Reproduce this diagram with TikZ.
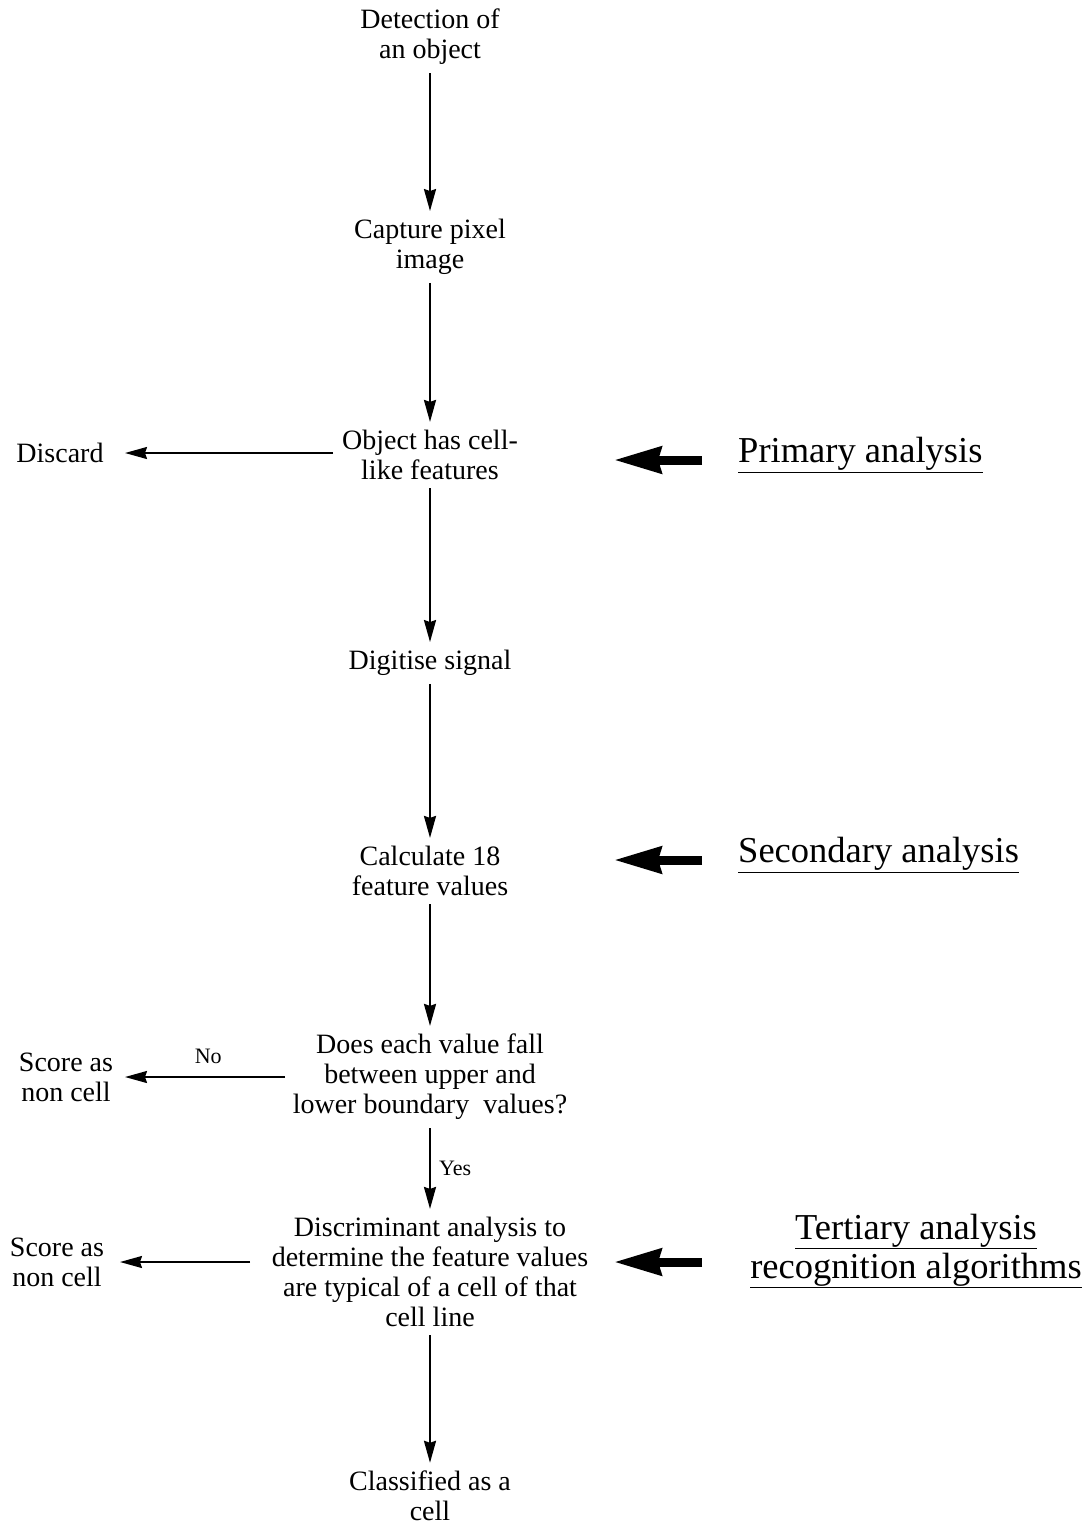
\documentclass[tikz,border=0pt]{standalone}
\usepackage{fontspec}
\setmainfont{Liberation Serif}
\usetikzlibrary{arrows.meta}
\begin{document}
\begin{tikzpicture}[x=1pt,y=-1pt,
  txt/.style={align=center,inner xsep=0pt,inner ysep=8pt,font=\fontsize{28}{30}\selectfont},
  lbl/.style={align=center,inner sep=0pt,font=\fontsize{22}{25}\selectfont},
  big/.style={align=center,inner sep=0pt,font=\fontsize{36.5}{39}\selectfont},
  flow/.style={line width=2.2pt,-{Stealth[length=22pt,width=12pt,inset=2pt]}},
  side/.style={line width=1.8pt,-{Stealth[length=22pt,width=12pt,inset=2pt]}},
  thick arrow/.style={line width=9pt,-{Stealth[length=47pt,width=26pt,inset=3pt]}}]
\useasboundingbox (0,0) rectangle (1086,1524);
\fill[white] (0,0) rectangle (1086,1524);
% main column
\node[txt] (det) at (430,37) {Detection of\\an object};
\node[txt] (cap) at (430,247) {Capture pixel\\image};
\node[txt] (obj) at (430,455) {Object has cell-\\like features};
\node[txt] (dig) at (430,663) {Digitise signal};
\node[txt] (calc) at (430,871) {Calculate 18\\feature values};
\node[txt] (does) at (430,1077) {Does each value fall\\between upper and\\lower boundary\ \ values?};
\node[txt] (disc) at (430,1272) {Discriminant analysis to\\determine the feature values\\are typical of a cell of that\\cell line};
\node[txt] (cls) at (430,1496) {Classified as a\\cell};
% side outcomes
\node[txt] (discard) at (60,453) {Discard};
\node[txt] (sc1) at (66,1077) {Score as\\non cell};
\node[txt] (sc2) at (57,1262) {Score as\\non cell};
% analysis labels
\node[big,anchor=west] (prim) at (738,455) {\underline{Primary analysis}};
\node[big,anchor=west] (sec) at (738,855) {\underline{Secondary analysis}};
\node[big] (ter) at (916,1251) {\underline{Tertiary analysis}\\\underline{recognition algorithms}};
% flow arrows
\draw[flow] (det) -- (cap);
\draw[flow] (cap) -- (obj);
\draw[flow] (obj) -- (dig);
\draw[flow] (dig) -- (calc);
\draw[flow] (calc) -- (does);
\draw[flow] (does) -- node[lbl,right=8pt] (yes) {Yes} (disc);
\draw[flow] (disc) -- (cls);
% side arrows
\coordinate (d0) at (333,453);
\coordinate (d1) at (125,453);
\coordinate (n0) at (285,1077);
\coordinate (n1) at (125,1077);
\coordinate (c0) at (250,1262);
\coordinate (c1) at (120,1262);
\draw[side] (d0) -- (d1);
\draw[side] (n0) -- node[lbl,above=12pt,pos=0.48] (no) {No} (n1);
\draw[side] (c0) -- (c1);
% thick analysis arrows
\coordinate (s1) at (702,460); \coordinate (t1) at (614,460);
\coordinate (s2) at (702,860); \coordinate (t2) at (614,860);
\coordinate (s3) at (702,1262); \coordinate (t3) at (614,1262);
\draw[thick arrow] (s1) -- (t1);
\draw[thick arrow] (s2) -- (t2);
\draw[thick arrow] (s3) -- (t3);
\end{tikzpicture}
\end{document}
